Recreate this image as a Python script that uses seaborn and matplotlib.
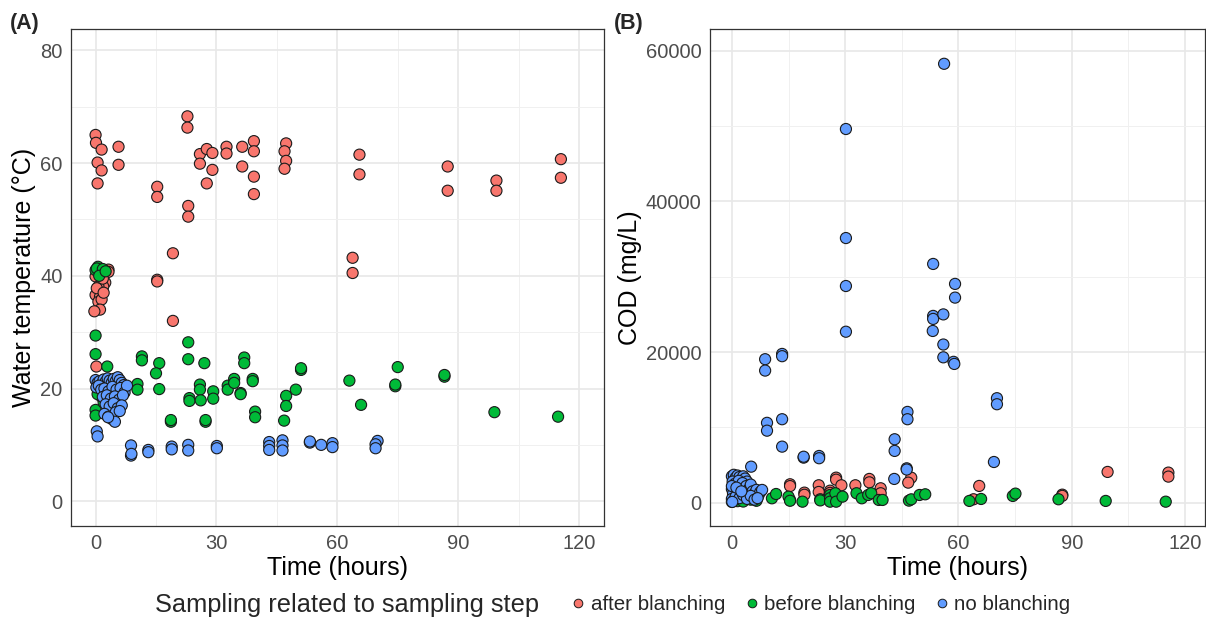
import numpy as np
import pandas as pd
import matplotlib
matplotlib.use("Agg")
import matplotlib.pyplot as plt
from matplotlib.lines import Line2D
from matplotlib.ticker import MultipleLocator
import seaborn as sns

# ---------------- data ----------------
groups = ["after blanching", "before blanching", "no blanching"]
colors = ["#F8766D", "#00BA38", "#619CFF"]

# Panel A: water temperature (°C)
a_after_t = [0.0, 0.1, 1.5, 5.7, 0.5, 1.5, 5.7, 0.5,
             3.2, 3.2, 0.0, 2.4, 1.9, 0.7, 0.7, 0.0, 1.1, 0.7, 1.5, 1.1, -0.3, 0.3, 2.0, 0.2, 1.8,
             15.3, 15.3, 15.3, 15.3, 19.2, 19.2, 22.8, 22.8, 23.0, 23.0, 25.9, 27.6, 29.0, 25.9,
             29.0, 27.6, 32.5, 32.5, 36.4, 36.4, 39.3, 39.3, 39.3, 39.3, 47.3, 46.9, 47.3, 46.9,
             63.8, 63.8, 65.5, 65.5, 87.4, 87.4, 99.5, 99.5, 115.5, 115.5]
a_after_v = [65.0, 63.6, 62.4, 62.9, 60.1, 58.7, 59.7, 56.4,
             41.1, 40.7, 39.9, 38.8, 38.1, 38.1, 37.2, 36.6, 36.3, 35.4, 35.8, 34.0, 33.7, 37.8, 37.0, 23.9, 39.5,
             55.8, 54.0, 39.3, 39.0, 44.0, 32.0, 68.3, 66.3, 52.4, 50.5, 61.6, 62.5, 61.8, 59.9,
             58.8, 56.4, 62.9, 61.7, 62.9, 59.4, 63.9, 62.1, 57.6, 54.5, 63.5, 62.1, 60.4, 59.0,
             43.2, 40.5, 61.5, 58.0, 59.4, 55.1, 56.9, 55.1, 60.7, 57.4]

a_before_t = [0.6, 0.0, 1.3, 0.3, 1.8, 0.9, 2.5, 0.0, 0.0, 2.9, 0.0, 0.0, 1.5, 2.0, 0.5, 3.0,
              11.5, 11.5, 15.8, 15.0, 10.4, 10.4, 15.8, 18.7, 18.7, 23.0, 23.0, 27.0, 25.9, 25.9,
              23.3, 23.3, 26.1, 29.2, 29.2, 27.3, 27.3, 32.8, 32.8, 34.4, 34.4, 36.0, 36.0, 36.9,
              36.9, 39.0, 39.0, 39.6, 39.6, 47.3, 47.3, 46.8, 49.7, 51.0, 51.0, 63.0, 65.9, 75.0,
              74.4, 74.4, 86.6, 86.6, 99.0, 114.8]
a_before_v = [41.6, 41.0, 40.5, 41.3, 41.2, 40.0, 40.8, 29.4, 26.1, 23.9, 16.2, 15.2, 18.5, 17.5, 19.0, 18.0,
              25.7, 25.0, 24.5, 22.7, 20.8, 19.8, 19.9, 14.1, 14.4, 28.2, 25.2, 24.5, 20.7, 19.8,
              18.3, 17.8, 17.9, 19.5, 18.2, 14.1, 14.4, 20.5, 19.8, 21.7, 21.0, 19.2, 19.0, 25.5,
              24.5, 21.7, 21.3, 15.9, 14.9, 18.7, 16.9, 14.3, 19.8, 23.3, 23.6, 21.4, 17.1, 23.8,
              20.4, 20.7, 22.1, 22.4, 15.8, 15.0]

a_no_t = [0.0, 0.5, 1.0, 1.5, 2.0, 2.5, 3.0, 3.5, 4.0, 4.5, 5.0, 5.5, 6.0, 6.5, 7.0,
          0.2, 0.8, 1.4, 2.2, 3.2, 4.2, 5.2, 6.2, 7.2, 7.8,
          1.8, 2.8, 3.8, 4.8, 5.8, 6.8, 2.5, 3.5, 4.5, 5.5, 6.5,
          2.2, 3.2, 4.0, 5.0, 6.0, 4.8, 3.1,
          0.3, 0.5, 8.8, 8.8, 8.9, 13.1, 13.1, 18.9, 18.9, 23.0, 23.0, 30.1, 30.1,
          43.1, 43.1, 43.1, 46.4, 46.4, 46.4, 53.2, 53.2, 56.0, 58.8, 58.8, 70.0, 69.5, 69.5]
a_no_v = [21.5, 21.0, 21.3, 20.8, 21.6, 21.2, 21.8, 21.4, 21.0, 21.7, 21.3, 22.0, 21.5, 21.0, 20.6,
          20.2, 20.5, 19.8, 20.0, 19.5, 20.3, 19.8, 20.1, 19.3, 20.5,
          18.5, 18.8, 18.2, 18.6, 18.0, 18.8, 17.2, 16.8, 17.4, 16.5, 17.0,
          15.5, 15.0, 14.6, 15.8, 16.0, 14.1, 14.9,
          12.4, 11.5, 9.9, 8.1, 8.4, 9.1, 8.7, 9.7, 9.2, 10.0, 9.0, 9.8, 9.4,
          10.5, 9.8, 9.1, 10.8, 9.9, 9.0, 10.4, 10.6, 10.0, 10.3, 9.6, 10.7, 10.1, 9.4]

# Panel B: COD (mg/L)
b_after_t = [1.2, 0.5, 2.0, 3.0, 0.3,
             15.4, 15.4, 19.2, 19.2, 15.4, 23.0, 23.0, 26.0, 26.0, 27.6, 27.6, 29.0, 32.7,
             36.4, 36.4, 39.4, 39.4, 47.5, 46.7, 65.5, 64.0, 87.5, 87.5, 99.5, 115.6, 115.6]
b_after_v = [1400, 2000, 900, 2600, 500,
             2440, 2200, 1330, 1050, 360, 2310, 1420, 1590, 1300, 3320, 3050, 2310, 2310,
             3150, 2700, 1910, 1250, 3320, 2660, 2220, 450, 1060, 900, 4080, 3990, 3460]

b_before_t = [0.0, 0.5, 1.5, 3.0, 5.0, 6.5,
              10.6, 11.7, 15.0, 15.4, 18.7, 23.4, 23.4, 26.0, 26.0, 26.0, 27.4, 27.6, 29.3,
              33.0, 34.4, 36.1, 36.9, 38.9, 39.9, 46.9, 47.5, 49.7, 51.2, 62.9, 66.0, 74.4,
              75.1, 86.5, 99.0, 114.9]
b_before_v = [100, 300, 200, 150, 400, 250,
              580, 1150, 800, 250, 130, 450, 300, 1020, 600, 130, 1250, 130, 800,
              1250, 580, 1020, 1250, 360, 360, 270, 440, 1020, 1110, 230, 490, 890,
              1200, 450, 230, 130]

b_no_t = [0.0, 0.5, 1.0, 1.5, 2.0, 2.5, 3.0, 3.5, 4.0, 0.2, 0.8, 1.8, 2.8, 3.8, 4.5, 5.0,
          5.5, 6.0, 6.5, 7.0, 7.5, 8.0, 0.0, 0.3, 0.0, 0.5, 1.0, 2.0, 3.0, 4.0, 5.0, 6.0,
          6.8, 0.0, 1.2, 2.5, 5.1, 0.1,
          8.8, 8.8, 13.3, 13.3, 9.3, 9.3, 13.3, 13.3, 19.0, 19.0, 23.1, 23.1,
          30.2, 30.2, 30.2, 30.2, 43.1, 43.1, 43.0, 46.5, 46.5, 46.3, 46.3,
          53.3, 53.3, 53.3, 53.2, 56.2, 56.0, 56.0, 56.0, 58.7, 58.9, 59.1, 59.1,
          70.2, 70.2, 69.4]
b_no_v = [3500, 3700, 3300, 3600, 3400, 3000, 3500, 3200, 2800, 2800, 2500, 2900, 2600, 2200, 1800, 2400,
          1500, 1200, 1700, 900, 1400, 1690, 1800, 1200, 500, 300, 800, 600, 1000, 500, 900, 400,
          600, 2200, 2000, 1500, 4780, 100,
          19050, 17540, 19750, 19450, 10600, 9560, 11080, 7440, 5980, 6100, 6200, 5900,
          49620, 35140, 28770, 22700, 8420, 6870, 3150, 12050, 11080, 4560, 4400,
          31700, 24800, 24400, 22800, 58280, 25000, 21000, 19300, 18700, 18420, 29050, 27230,
          13870, 13070, 5400]


def make_df(ts, vs):
    frames = []
    for g, t, v in zip(groups, ts, vs):
        frames.append(pd.DataFrame({"t": t, "v": v, "grp": g}))
    return pd.concat(frames, ignore_index=True)


df_a = make_df([a_after_t, a_before_t, a_no_t], [a_after_v, a_before_v, a_no_v])
df_b = make_df([b_after_t, b_before_t, b_no_t], [b_after_v, b_before_v, b_no_v])

# ---------------- style ----------------
sns.set_theme(style="white")
plt.rcParams["font.family"] = ["Liberation Sans", "DejaVu Sans"]

W, H = 1206, 618
fig = plt.figure(figsize=(W / 100, H / 100), dpi=100)


def px_axes(l, t, r, b):
    return fig.add_axes([l / W, 1 - b / H, (r - l) / W, (b - t) / H])


ax_a = px_axes(71, 29, 604, 526)
ax_b = px_axes(710, 29, 1205, 526)

palette = dict(zip(groups, colors))

for ax, df in [(ax_a, df_a), (ax_b, df_b)]:
    sns.scatterplot(data=df, x="t", y="v", hue="grp", hue_order=groups, palette=palette,
                    s=64, edgecolor="#1a1a1a", linewidth=0.8, legend=False, ax=ax, zorder=3)
    ax.set_facecolor("white")
    ax.xaxis.set_major_locator(MultipleLocator(30))
    ax.xaxis.set_minor_locator(MultipleLocator(15))
    ax.grid(True, which="major", color="#E8E8E8", linewidth=1.2, zorder=0)
    ax.grid(True, which="minor", color="#F0F0F0", linewidth=0.7, zorder=0)
    ax.set_axisbelow(True)
    for sp in ax.spines.values():
        sp.set_color("#333333")
        sp.set_linewidth(0.9)
    ax.tick_params(which="major", length=3.5, width=0.8, color="#333333",
                   labelsize=14.5, labelcolor="#4D4D4D", pad=2.5)
    ax.tick_params(which="minor", length=0)
    ax.set_xlabel("Time (hours)", fontsize=18, color="black", labelpad=2)

ax_a.set_xlim(-6.1, 126.2)
ax_a.set_ylim(-4.4, 83.8)
ax_a.yaxis.set_major_locator(MultipleLocator(20))
ax_a.yaxis.set_minor_locator(MultipleLocator(10))
ax_a.set_ylabel("Water temperature (°C)", fontsize=18, color="black", labelpad=3)

ax_b.set_xlim(-5.8, 125.3)
ax_b.set_ylim(-3100, 62900)
ax_b.yaxis.set_major_locator(MultipleLocator(20000))
ax_b.yaxis.set_minor_locator(MultipleLocator(10000))
ax_b.set_ylabel("COD (mg/L)", fontsize=18, color="black", labelpad=3)

# panel tags
fig.text(10 / W, 1 - 24 / H, "(A)", fontsize=15.5, fontweight="bold", va="center", ha="left")
fig.text(614 / W, 1 - 24 / H, "(B)", fontsize=15.5, fontweight="bold", va="center", ha="left")

# legend
fig.text(155 / W, 1 - 605 / H, "Sampling related to sampling step", fontsize=18.3,
         va="center", ha="left")
handles = [Line2D([0], [0], marker="o", linestyle="", markersize=6.2,
                  markerfacecolor=c, markeredgecolor="#1a1a1a", markeredgewidth=0.7)
           for c in colors]
fig.legend(handles, groups, loc="center left", bbox_to_anchor=(570 / W, 1 - 605 / H),
           ncol=3, frameon=False, fontsize=14.8, handletextpad=0.2, columnspacing=0.9,
           handlelength=0.8, borderpad=0, borderaxespad=0)

fig.savefig("out.png", dpi=100)
